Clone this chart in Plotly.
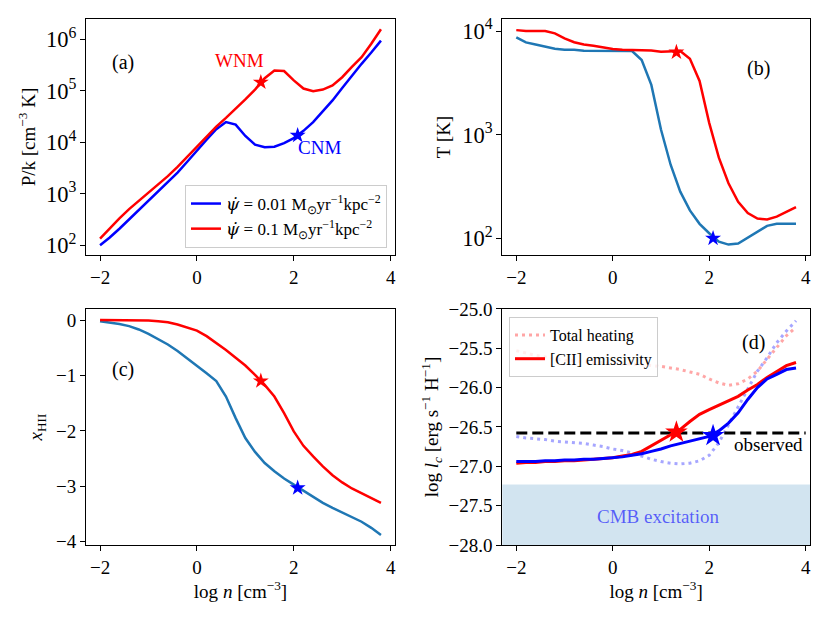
import plotly.graph_objects as go

# ---------------- data ----------------
log_n = [-2.0, -1.8, -1.6, -1.4, -1.2, -1.0, -0.8, -0.6, -0.4, -0.2,
         0.0, 0.2, 0.4, 0.6, 0.8, 1.0, 1.2, 1.4, 1.6, 1.8,
         2.0, 2.2, 2.4, 2.6, 2.8, 3.0, 3.2, 3.4, 3.6, 3.8]

# (a) pressure P/k [cm^-3 K]
pk_low = [100, 141, 209, 316, 479, 724, 1096, 1660, 2570, 4170,
          6920, 11200, 17800, 24500, 21900, 13200, 8910, 7940, 8130, 9550,
          12000, 16600, 24500, 39800, 64600, 112000, 195000, 331000, 550000, 933000]
pk_high = [135, 214, 331, 501, 724, 1050, 1480, 2190, 3310, 5130,
           7940, 12600, 20000, 29500, 43700, 67600, 105000, 174000, 245000, 240000,
           158000, 110000, 97700, 105000, 126000, 182000, 288000, 447000, 813000, 1550000]

# (b) temperature [K]
T_low = [8700, 7760, 7400, 7080, 6760, 6600, 6600, 6460, 6460, 6460,
         6400, 6400, 6400, 5250, 3020, 1120, 513, 282, 186, 138,
         112, 93, 87, 89, 102, 117, 132, 138, 138, 138]
T_high = [10200, 10000, 10000, 10000, 9500, 8500, 7800, 7400, 7200, 6900,
          6700, 6600, 6600, 6500, 6500, 6300, 6300, 6400, 5400, 3300,
          1300, 600, 340, 225, 175, 155, 152, 162, 180, 200]

# (c) log ionised fraction
xHII_low = [-0.02, -0.04, -0.07, -0.11, -0.17, -0.25, -0.34, -0.44, -0.56, -0.69,
            -0.82, -0.96, -1.10, -1.38, -1.77, -2.13, -2.38, -2.58, -2.73, -2.86,
            -2.97, -3.08, -3.20, -3.30, -3.39, -3.47, -3.55, -3.64, -3.75, -3.88]
xHII_high = [0.0, 0.0, 0.0, 0.0, -0.005, -0.01, -0.02, -0.04, -0.08, -0.13,
             -0.19, -0.29, -0.41, -0.54, -0.68, -0.82, -0.99, -1.17, -1.38, -1.68,
             -2.01, -2.27, -2.46, -2.64, -2.80, -2.93, -3.04, -3.13, -3.22, -3.30]

# (d) log cooling / heating per H
cii_low = [-26.94, -26.94, -26.94, -26.93, -26.93, -26.92, -26.92, -26.91, -26.91, -26.90,
           -26.89, -26.88, -26.86, -26.84, -26.81, -26.78, -26.74, -26.71, -26.68, -26.65,
           -26.62, -26.55, -26.45, -26.32, -26.15, -26.00, -25.89, -25.83, -25.77, -25.75]
cii_high = [-26.96, -26.95, -26.95, -26.94, -26.94, -26.93, -26.93, -26.92, -26.91, -26.90,
            -26.89, -26.87, -26.85, -26.81, -26.74, -26.68, -26.61, -26.53, -26.43, -26.34,
            -26.28, -26.22, -26.17, -26.11, -26.03, -25.96, -25.87, -25.79, -25.72, -25.68]
heat_low = [-26.62, -26.64, -26.65, -26.66, -26.68, -26.69, -26.70, -26.71, -26.73, -26.75,
            -26.78, -26.80, -26.83, -26.87, -26.91, -26.94, -26.96, -26.97, -26.96, -26.93,
            -26.86, -26.70, -26.47, -26.24, -26.00, -25.79, -25.62, -25.43, -25.28, -25.15]
heat_high = [-25.53, -25.56, -25.59, -25.61, -25.63, -25.65, -25.66, -25.67, -25.68, -25.68,
             -25.69, -25.70, -25.70, -25.71, -25.72, -25.73, -25.75, -25.77, -25.80, -25.83,
             -25.89, -25.94, -25.97, -25.95, -25.89, -25.79, -25.64, -25.49, -25.34, -25.23]

observed_lc = -26.575
cmb_limit = -27.23

# two-phase points: (WNM on high-SFR curve, CNM on low-SFR curve)
wnm_n, cnm_n = 1.32, 2.08
star_pk = [1.45e5, 1.35e4]
star_T = [6250, 100]
star_x = [-1.10, -3.03]
star_lc = [-26.565, -26.61]

PSI = '<i><span style="font-family:DejaVu Serif">ψ̇</span></i>'
legend_labels = [PSI + " = 0.01 M<sub>⊙</sub>yr<sup>−1</sup>kpc<sup>−2</sup>",
                 PSI + " = 0.1 M<sub>⊙</sub>yr<sup>−1</sup>kpc<sup>−2</sup>"]

# minor tick positions on the log axes (2..9 x 10^k)
minor_ticks_a = [m * 10 ** k for k in range(1, 7) for m in range(2, 10)]
minor_ticks_b = [m * 10 ** k for k in range(1, 5) for m in range(2, 10)]

# ---------------- figure ----------------
FONT = "Liberation Serif"
BLUE, RED, C0 = "#0000ff", "#ff0000", "#1f77b4"
LW = 2.5

fig = go.Figure()

# (a)
fig.add_trace(go.Scatter(x=log_n, y=pk_low, mode="lines", line=dict(color=BLUE, width=LW),
                         name=legend_labels[0], xaxis="x", yaxis="y", legend="legend"))
fig.add_trace(go.Scatter(x=log_n, y=pk_high, mode="lines", line=dict(color=RED, width=LW),
                         name=legend_labels[1], xaxis="x", yaxis="y", legend="legend"))
fig.add_trace(go.Scatter(x=[wnm_n], y=[star_pk[0]], mode="markers", showlegend=False,
                         marker=dict(symbol="star", size=12, color=RED), xaxis="x", yaxis="y"))
fig.add_trace(go.Scatter(x=[cnm_n], y=[star_pk[1]], mode="markers", showlegend=False,
                         marker=dict(symbol="star", size=12, color=BLUE), xaxis="x", yaxis="y"))

# (b)
fig.add_trace(go.Scatter(x=log_n, y=T_low, mode="lines", line=dict(color=C0, width=LW),
                         showlegend=False, xaxis="x2", yaxis="y2"))
fig.add_trace(go.Scatter(x=log_n, y=T_high, mode="lines", line=dict(color=RED, width=LW),
                         showlegend=False, xaxis="x2", yaxis="y2"))
fig.add_trace(go.Scatter(x=[wnm_n], y=[star_T[0]], mode="markers", showlegend=False,
                         marker=dict(symbol="star", size=12, color=RED), xaxis="x2", yaxis="y2"))
fig.add_trace(go.Scatter(x=[cnm_n], y=[star_T[1]], mode="markers", showlegend=False,
                         marker=dict(symbol="star", size=12, color=BLUE), xaxis="x2", yaxis="y2"))

# (c)
fig.add_trace(go.Scatter(x=log_n, y=xHII_low, mode="lines", line=dict(color=C0, width=LW),
                         showlegend=False, xaxis="x3", yaxis="y3"))
fig.add_trace(go.Scatter(x=log_n, y=xHII_high, mode="lines", line=dict(color=RED, width=LW),
                         showlegend=False, xaxis="x3", yaxis="y3"))
fig.add_trace(go.Scatter(x=[wnm_n], y=[star_x[0]], mode="markers", showlegend=False,
                         marker=dict(symbol="star", size=12, color=RED), xaxis="x3", yaxis="y3"))
fig.add_trace(go.Scatter(x=[cnm_n], y=[star_x[1]], mode="markers", showlegend=False,
                         marker=dict(symbol="star", size=12, color=BLUE), xaxis="x3", yaxis="y3"))

# (d)
fig.add_trace(go.Scatter(x=log_n, y=heat_high, mode="lines",
                         line=dict(color="rgba(255,0,0,0.35)", width=3, dash="3px,4px"),
                         name="Total heating", xaxis="x4", yaxis="y4", legend="legend2"))
fig.add_trace(go.Scatter(x=log_n, y=heat_low, mode="lines",
                         line=dict(color="rgba(0,0,255,0.35)", width=3, dash="3px,4px"),
                         showlegend=False, xaxis="x4", yaxis="y4"))
fig.add_trace(go.Scatter(x=[-2, 4], y=[observed_lc, observed_lc], mode="lines",
                         line=dict(color="black", width=3, dash="11px,5px"),
                         showlegend=False, xaxis="x4", yaxis="y4"))
fig.add_trace(go.Scatter(x=log_n, y=cii_high, mode="lines", line=dict(color=RED, width=3),
                         name="[CII] emissivity", xaxis="x4", yaxis="y4", legend="legend2"))
fig.add_trace(go.Scatter(x=log_n, y=cii_low, mode="lines", line=dict(color=BLUE, width=3),
                         showlegend=False, xaxis="x4", yaxis="y4"))
fig.add_trace(go.Scatter(x=[wnm_n], y=[star_lc[0]], mode="markers", showlegend=False,
                         marker=dict(symbol="star", size=17, color=RED), xaxis="x4", yaxis="y4"))
fig.add_trace(go.Scatter(x=[cnm_n], y=[star_lc[1]], mode="markers", showlegend=False,
                         marker=dict(symbol="star", size=17, color=BLUE), xaxis="x4", yaxis="y4"))

fig.add_shape(type="rect", xref="x4 domain", yref="y4", x0=0, x1=1, y0=-28, y1=cmb_limit,
              fillcolor="rgba(31,119,180,0.2)", line=dict(width=0), layer="below")

# plot area on page: x 86..810 px, y 19..545 px (page body has an 8 px offset)
XL = [0.0, 0.4268]
XR = [0.575, 1.0]
YT = [0.5513, 1.0]
YB = [0.0, 0.4487]
XRANGE = [-2.29, 4.09]
YA_RANGE = [1.81, 6.39]
YB_RANGE = [1.839, 4.116]

TS = 19
tickfont = dict(family=FONT, size=TS, color="black")
logtickfont = dict(family=FONT, size=18, color="black")
common = dict(showline=True, linecolor="black", linewidth=1, mirror=True, ticks="outside",
              ticklen=5, tickwidth=1, tickcolor="black", showgrid=False, zeroline=False,
              tickfont=tickfont, automargin=False)
xcommon = dict(common, range=XRANGE, tickvals=[-2, 0, 2, 4])
titlefont = dict(family=FONT, size=TS, color="black")
minor_axis = dict(type="log", ticks="outside", ticklen=3, tickwidth=0.8, tickcolor="black",
                  showticklabels=False, showgrid=False, zeroline=False, showline=False,
                  automargin=False, side="left")

fig.update_layout(
    template=None,
    width=830, height=623, margin=dict(l=78, r=28, t=11, b=86, autoexpand=False),
    paper_bgcolor="white", plot_bgcolor="white",
    font=dict(family=FONT, size=TS, color="black"),
    xaxis=dict(xcommon, domain=XL, anchor="y"),
    yaxis=dict(common, domain=YT, anchor="x", type="log", range=YA_RANGE, dtick=1,
               exponentformat="power", tickfont=logtickfont,
               title=dict(text="P/k [cm<sup>−3</sup> K]", font=titlefont, standoff=5)),
    yaxis5=dict(minor_axis, domain=YT, anchor="x", overlaying="y", range=YA_RANGE,
                tickvals=minor_ticks_a),
    xaxis2=dict(xcommon, domain=XR, anchor="y2"),
    yaxis2=dict(common, domain=YT, anchor="x2", type="log", range=YB_RANGE, dtick=1,
                exponentformat="power", tickfont=logtickfont,
                title=dict(text="T [K]", font=titlefont, standoff=6)),
    yaxis6=dict(minor_axis, domain=YT, anchor="x2", overlaying="y2", range=YB_RANGE,
                tickvals=minor_ticks_b),
    xaxis3=dict(xcommon, domain=XL, anchor="y3",
                title=dict(text="log <i>n</i> [cm<sup>−3</sup>]", font=titlefont, standoff=5)),
    yaxis3=dict(common, domain=YB, anchor="x3", range=[-4.06, 0.2], tickvals=[0, -1, -2, -3, -4],
                title=dict(text="<i>x</i><sub>HII</sub>", font=titlefont, standoff=8)),
    xaxis4=dict(xcommon, domain=XR, anchor="y4",
                title=dict(text="log <i>n</i> [cm<sup>−3</sup>]", font=titlefont, standoff=5)),
    yaxis4=dict(common, domain=YB, anchor="x4", range=[-28, -25], dtick=0.5, tickformat=".1f",
                title=dict(text="log <i>l</i><sub><i>c</i></sub> [erg s<sup>−1</sup> H<sup>−1</sup>]",
                           font=titlefont, standoff=4)),
    legend=dict(x=(387 - 86) / 724, y=(545 - 248) / 526, xanchor="right", yanchor="bottom",
                bgcolor="rgba(255,255,255,0.8)", bordercolor="#cccccc", borderwidth=1,
                font=dict(family=FONT, size=17, color="black"), tracegroupgap=0,
                itemwidth=30),
    legend2=dict(x=(509 - 86) / 724, y=(545 - 317) / 526, xanchor="left", yanchor="top",
                 bgcolor="rgba(255,255,255,0.8)", bordercolor="#cccccc", borderwidth=1,
                 font=dict(family=FONT, size=16, color="black"), tracegroupgap=0,
                 itemwidth=30),
)

ann = dict(showarrow=False, font=dict(family=FONT, size=20, color="black"))
fig.add_annotation(ann, x=-1.53, y=5.55, xref="x", yref="y", text="(a)")
fig.add_annotation(ann, x=3.02, y=3.64, xref="x2", yref="y2", text="(b)")
fig.add_annotation(ann, x=-1.53, y=-0.89, xref="x3", yref="y3", text="(c)")
fig.add_annotation(ann, x=2.92, y=-25.43, xref="x4", yref="y4", text="(d)")
fig.add_annotation(dict(ann, font=dict(family=FONT, size=19, color=RED)),
                   x=0.88, y=5.59, xref="x", yref="y", text="WNM")
fig.add_annotation(dict(ann, font=dict(family=FONT, size=19, color=BLUE)),
                   x=2.54, y=3.9, xref="x", yref="y", text="CNM")
fig.add_annotation(dict(ann, font=dict(family=FONT, size=19, color="black")),
                   x=3.22, y=-26.72, xref="x4", yref="y4", text="observed")
fig.add_annotation(dict(ann, font=dict(family=FONT, size=19, color="rgba(0,0,255,0.6)")),
                   x=0.93, y=-27.64, xref="x4", yref="y4", text="CMB excitation")

fig.write_html("out.html")
